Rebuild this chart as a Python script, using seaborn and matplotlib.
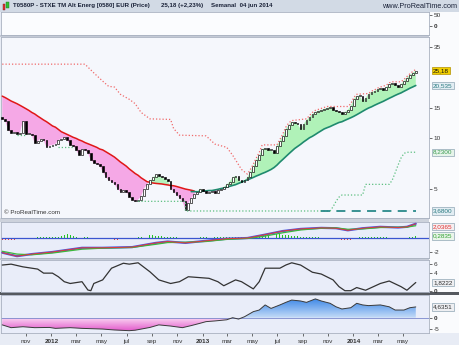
import numpy as np
import pandas as pd
import matplotlib
matplotlib.use("Agg")
import matplotlib.pyplot as plt
from matplotlib.patches import Rectangle
from matplotlib.path import Path
from matplotlib.colors import LinearSegmentedColormap
from matplotlib.transforms import blended_transform_factory
import matplotlib.ticker as mticker
import seaborn as sns

sns.set_theme(style="white")
plt.rcParams['font.family'] = ['Liberation Sans', 'DejaVu Sans']

# ---------------- data (weekly bars) ----------------
first_date = "2011-09-04"
last_date = "2014-06-01"
closes = [13.0, 12.6, 11.2, 10.7, 10.9, 10.6, 10.7, 12.7, 10.6, 10.6,
          10.4, 9.3, 9.6, 9.9, 9.7, 8.8, 9.0, 9.1, 9.2, 9.7,
          9.9, 10.1, 9.7, 9.1, 9.0, 8.5, 7.9, 8.6, 8.5, 8.1,
          7.4, 7.1, 7.0, 6.8, 6.3, 5.9, 5.6, 5.5, 5.3, 5.0,
          4.8, 4.9, 4.8, 4.45, 4.28, 4.2, 4.3, 4.5, 5.0, 5.3,
          5.6, 5.9, 6.1, 5.95, 5.85, 5.7, 5.55, 5.0, 4.8, 4.6,
          4.4, 4.2, 3.75, 4.1, 4.4, 4.65, 4.8, 5.0, 4.85, 4.7,
          4.8, 4.85, 4.7, 4.9, 5.0, 5.1, 5.3, 5.5, 5.85, 5.95,
          5.6, 5.5, 5.6, 5.85, 6.3, 6.8, 7.4, 7.9, 8.6, 8.7,
          8.5, 8.5, 8.1, 9.0, 9.6, 10.3, 11.3, 11.95, 12.5, 12.3,
          12.1, 11.3, 12.1, 12.8, 13.3, 13.9, 14.3, 14.5, 14.7, 14.9,
          15.1, 15.3, 14.7, 14.5, 14.3, 13.9, 14.3, 14.7, 15.5, 17.0,
          17.8, 17.8, 16.6, 17.3, 18.3, 18.8, 19.0, 19.5, 19.8, 19.3,
          20.1, 20.9, 21.2, 20.7, 20.1, 20.9, 21.8, 22.8, 23.7, 24.4, 25.18]
first_open = 13.4

# red moving average (bars 0..65) and green moving average (bars 64..140)
ma_red = [17.75, 17.4, 17.0, 16.6, 16.3, 16.0, 15.65, 15.3, 14.95, 14.6,
          14.2, 13.9, 13.5, 13.15, 12.8, 12.5, 12.15, 11.8, 11.6, 11.25,
          10.9, 10.7, 10.5, 10.3, 10.1, 9.95, 9.75, 9.6, 9.4, 9.25,
          9.1, 8.95, 8.8, 8.6, 8.5, 8.3, 8.1, 7.9, 7.7, 7.45,
          7.2, 7.0, 6.8, 6.55, 6.35, 6.15, 6.0, 5.8, 5.65, 5.5,
          5.45, 5.4, 5.37, 5.35, 5.33, 5.29, 5.26, 5.22, 5.2, 5.15,
          5.09, 5.03, 4.97, 4.93, 4.89, 4.84]
ma_green = [4.8, 4.8, 4.79, 4.8, 4.83, 4.85, 4.87, 4.87, 4.91, 4.95,
            5.0, 5.04, 5.1, 5.16, 5.22, 5.28, 5.37, 5.46, 5.55, 5.64,
            5.73, 5.83, 5.94, 6.04, 6.15, 6.25, 6.37, 6.5, 6.67, 6.9,
            7.19, 7.46, 7.75, 8.05, 8.35, 8.66, 8.91, 9.17, 9.47, 9.74,
            10.03, 10.24, 10.5, 10.78, 11.05, 11.33, 11.52, 11.7, 11.93, 12.15,
            12.37, 12.5, 12.74, 12.97, 13.2, 13.46, 13.76, 14.08, 14.42, 14.76,
            15.08, 15.33, 15.65, 15.95, 16.24, 16.53, 16.88, 17.23, 17.56, 17.92,
            18.25, 18.55, 18.96, 19.35, 19.78, 20.14, 20.535]
green_start = 64

# red dotted trailing line (bar index, value)
rd_i = [0, 28, 31, 34, 36, 38, 40, 43, 45, 47, 50, 57, 58, 60, 69, 72, 76, 78, 81, 83,
        84, 85, 86, 87, 88, 93, 94, 95, 96, 97, 98, 103, 104, 105, 106, 108, 110, 117, 118, 119,
        120, 124, 125, 126, 127, 128, 130, 131, 132, 135, 136, 137, 138, 139, 140]
rd_v = [27.5, 27.5, 24.4, 21.8, 20.3, 20.1, 18.2, 17.0, 16.0, 14.2, 13.0, 12.9, 11.4, 10.4, 10.3, 9.2, 8.8, 7.9, 6.5, 6.1,
        6.5, 7.0, 7.6, 8.2, 9.1, 9.1, 9.8, 10.6, 11.6, 12.3, 12.7, 13.0, 13.6, 14.2, 14.6, 15.0, 15.4, 15.4, 16.0, 17.4,
        18.2, 18.4, 19.0, 19.3, 19.8, 20.1, 20.6, 21.3, 21.6, 21.6, 22.3, 23.2, 24.1, 24.9, 25.6]

# green dotted trailing line segments
gd1_i, gd1_v = [5, 8], [10.4, 10.4]
gd2_i, gd2_v = [19, 24], [8.8, 8.8]
gd3_i = [46, 62, 62, 111, 112, 113, 114, 115, 122, 123, 131, 132, 133, 134, 135, 136, 137, 140]
gd3_v = [4.2, 4.2, 3.68, 3.68, 3.9, 4.2, 4.45, 4.58, 4.58, 5.3, 5.3, 5.6, 6.2, 6.9, 7.6, 8.1, 8.23, 8.23]
support_i, support_v = [108, 140], [3.68, 3.68]

# MACD panel
macd_i = [0, 5, 10, 17, 27, 34, 44, 52, 56, 62, 69, 76, 83, 88, 95, 101, 108, 113, 117, 122, 128, 134, 137, 140]
macd_v = [-2.1, -2.6, -2.3, -2.0, -1.4, -1.4, -1.3, -0.7, -0.5, -0.7, -0.4, -0.1, 0.0, 0.4, 1.0, 1.3, 1.45, 1.4, 1.1, 1.4, 1.6, 1.5, 1.6, 2.04]
signal_v = [-1.9, -2.3, -2.4, -2.15, -1.6, -1.45, -1.35, -0.9, -0.65, -0.6, -0.5, -0.2, -0.05, 0.2, 0.75, 1.15, 1.4, 1.45, 1.25, 1.3, 1.5, 1.55, 1.55, 1.76]
hist = [-0.3, -0.35, -0.35, -0.3, -0.3, -0.25, -0.2, 0.0, 0.05, 0.05, 0.05, 0.05,
        0.1, 0.1, 0.1, 0.15, 0.15, 0.1, 0.1, 0.2, 0.35, 0.5, 0.6, 0.5, 0.35,
        0.2, 0.15, 0.15, 0.1, 0.1, 0.05, 0.03, 0.02, 0.0, -0.02, -0.05,
        -0.15, -0.2, -0.25, -0.25, -0.2, -0.15, -0.1, 0.03, 0.05, 0.05, 0.08, 0.1,
        0.2, 0.3, 0.4, 0.4, 0.35, 0.3, 0.25, 0.2, 0.15, 0.1, 0.1, 0.08, 0.05, 0.03,
        -0.15, -0.2, -0.2, -0.1,
        0.05, 0.08, 0.1, 0.1, 0.12, 0.1, 0.1, 0.12, 0.1, 0.1, 0.12, 0.12, 0.1,
        0.1, 0.12, 0.12, 0.15, 0.15, 0.2, 0.25, 0.3, 0.35, 0.35, 0.4, 0.45,
        0.5, 0.55, 0.6, 0.6, 0.5, 0.45, 0.4, 0.35, 0.3, 0.25, 0.2, 0.2, 0.15, 0.15, 0.1, 0.1,
        0.08, 0.05, 0.03, 0.02, 0.0, -0.05, -0.2, -0.3, -0.35, -0.35, -0.3, -0.25, -0.15,
        0.05, 0.08, 0.1, 0.12, 0.1, 0.1, 0.1, 0.1, 0.12, 0.12, 0.1, 0.05,
        -0.1, -0.15, -0.15, -0.1, 0.03, 0.05, 0.1, 0.2, 0.28]

# oscillator panel
osc_i = [0, 3, 7, 10, 12, 14, 17, 19, 21, 23, 27, 29, 30, 31, 34, 37, 41, 43, 45, 46,
         50, 53, 57, 60, 63, 67, 70, 73, 75, 79, 81, 85, 87, 89, 94, 96, 98, 101, 105, 108,
         112, 114, 116, 118, 120, 123, 128, 131, 135, 137, 140]
osc_v = [5.7, 5.9, 5.3, 5.0, 4.8, 3.9, 3.9, 3.1, 2.0, 1.6, 2.0, 0.15, 0.0, 1.6, 2.4, 5.0, 6.1, 5.9, 6.1, 6.2,
         4.2, 2.4, 1.6, 2.0, 3.1, 2.9, 2.75, 2.0, 1.1, 2.4, 2.0, 0.4, 2.0, 5.0, 5.0, 5.7, 6.2, 5.7, 4.1, 3.7,
         2.4, 0.9, 0.0, 0.0, 0.7, 0.1, 1.6, 2.15, 0.9, 0.1, 1.82]

# bottom panel
vol_i = [0, 3, 7, 11, 16, 18, 23, 27, 34, 38, 43, 45, 50, 53, 57, 61, 64, 67, 69, 72,
         76, 78, 80, 82, 85, 87, 89, 91, 94, 96, 98, 101, 103, 106, 108, 111, 113, 115, 118, 120,
         122, 124, 128, 131, 133, 136, 138, 140]
vol_v = [-3.1, -4.3, -3.9, -4.3, -4.2, -4.6, -4.3, -4.6, -4.9, -5.3, -5.6, -5.4, -4.2, -3.1, -3.6, -4.3, -3.4, -2.4, -1.7, -1.4,
         -0.9, 0.0, -0.6, 0.4, 2.6, 3.3, 5.5, 4.0, 5.5, 6.6, 7.6, 7.2, 6.6, 8.1, 7.2, 6.2, 4.7, 3.75, 4.3, 6.2,
         5.5, 5.2, 5.5, 4.7, 3.3, 3.3, 4.3, 4.64]

month_ticks = ["2011-11-01", "2012-01-01", "2012-03-01", "2012-05-01", "2012-07-01", "2012-09-01", "2012-11-01",
               "2013-01-01", "2013-03-01", "2013-05-01", "2013-07-01", "2013-09-01", "2013-11-01",
               "2014-01-01", "2014-03-01", "2014-05-01"]
month_labels = ["nov", "2012", "mar", "may", "jul", "sep", "nov", "2013", "mar", "may", "jul", "sep", "nov",
                "2014", "mar", "may"]

# ---------------- figure ----------------
W, H = 460, 345
fig = plt.figure(figsize=(W / 100, H / 100), dpi=100)
fig.patch.set_facecolor('#e8ecf5')

def frect(x0, y0, x1, y1, color, z=-5):
    fig.patches.append(Rectangle((x0 / W, 1 - y1 / H), (x1 - x0) / W, (y1 - y0) / H,
                                 transform=fig.transFigure, facecolor=color, edgecolor='none', zorder=z))

frect(429, 12, 460, 333, '#fafbfd')
frect(0, 0, 460, 12, '#d2dae5')
frect(0, 11.5, 460, 12.3, '#9aa6b8', -4)
frect(0, 35, 429, 37, '#c4cad6', -4)
frect(0, 218, 429, 222, '#cdd2dc', -4)
frect(0, 258, 429, 260, '#c4cad6', -4)
frect(0, 292.3, 460, 294.6, '#55595f', -4)

def px_ax(top, bottom, fc):
    ax = fig.add_axes([1 / W, 1 - bottom / H, 428 / W, (bottom - top) / H])
    ax.set_facecolor(fc)
    for s in ax.spines.values():
        s.set_color('#a9b1c0')
        s.set_linewidth(0.6)
    ax.yaxis.tick_right()
    ax.tick_params(axis='y', right=True, left=False, labelright=True, labelleft=False,
                   direction='out', length=2, width=0.5, pad=1.5, labelsize=4.6, colors='#333333')
    ax.tick_params(axis='x', bottom=False, labelbottom=False)
    return ax

ax_top = px_ax(12, 35, '#fbfcfe')
ax_main = px_ax(37, 218, '#f5f7fc')
ax_macd = px_ax(222, 258, '#e9edf9')
ax_osc = px_ax(260, 292, '#e9edf9')
ax_vol = px_ax(295, 333, '#e9edf9')

dates = pd.date_range(start=first_date, end=last_date, periods=len(closes))
xlim = (pd.Timestamp("2011-09-01"), pd.Timestamp("2014-07-03"))
for ax in (ax_top, ax_main, ax_macd, ax_osc, ax_vol):
    ax.set_xlim(xlim)

def vlabel(ax, y, txt, fc, tc, ec='#8fa6b4'):
    tr = blended_transform_factory(ax.transAxes, ax.transData)
    ax.text(1 + 4 / 428, y, txt, transform=tr, fontsize=4.6, color=tc, va='center', ha='left',
            clip_on=False, zorder=10,
            bbox=dict(boxstyle='square,pad=0.18', fc=fc, ec=ec, lw=0.5))

def bold_zero(ax):
    for lab in ax.get_yticklabels():
        if lab.get_text() == '0':
            lab.set_fontweight('bold')

# ---- top empty panel ----
ax_top.set_ylim(-43.5, 64)
ax_top.set_yticks([0, 50])
ax_top.set_yticklabels(['0', '50'])
bold_zero(ax_top)

# ---- main price panel ----
ax = ax_main
ax.set_yscale('log')
ax.set_ylim(3.343, 39.9)
c = np.array(closes)
o = np.array([first_open] + closes[:-1])
mr = np.array(ma_red)
mg = np.array(ma_green)
nr = len(ma_red)
cr = c[:nr]
ax.fill_between(dates[:nr], cr, mr, where=cr <= mr, interpolate=True, color='#f5a8e6', lw=0, zorder=1)
ax.fill_between(dates[:nr], cr, mr, where=cr > mr, interpolate=True, color='#b4f2bc', lw=0, zorder=1)
cg = c[green_start:green_start + len(mg)]
dg = dates[green_start:green_start + len(mg)]
ax.fill_between(dg, cg, mg, where=cg >= mg, interpolate=True, color='#b0f2b8', lw=0, zorder=1)
ax.fill_between(dg, cg, mg, where=cg < mg, interpolate=True, color='#f5a8e6', lw=0, zorder=1)

sns.lineplot(x=dates[:nr], y=mr, ax=ax, color='#e01818', linewidth=1.1, zorder=3, legend=False)
sns.lineplot(x=dg, y=mg, ax=ax, color='#1f8a6e', linewidth=1.2, zorder=3, legend=False)

up = c >= o
bottoms = np.minimum(o, c)
heights = np.maximum(np.abs(c - o), bottoms * 0.012)
ax.bar(dates, heights, bottom=bottoms, width=4.2,
       color=np.where(up, 'white', 'black'), edgecolor='black', linewidth=0.45, zorder=4)

ax.plot(dates[rd_i], rd_v, color='#f06a6a', linestyle=(0, (1, 1.6)), linewidth=0.9, zorder=5)
for gi, gv in ((gd1_i, gd1_v), (gd2_i, gd2_v), (gd3_i, gd3_v)):
    ax.plot(dates[gi], gv, color='#5cbf80', linestyle=(0, (1, 1.6)), linewidth=0.9, zorder=5)
ax.plot(dates[support_i], support_v, color='#2a8a8a', linestyle=(0, (5, 3.5)), linewidth=1.3, zorder=5)

ax.yaxis.set_major_locator(mticker.FixedLocator([5, 10, 15, 35]))
ax.yaxis.set_major_formatter(mticker.FixedFormatter(['5', '10', '15', '35']))
ax.yaxis.set_minor_locator(mticker.NullLocator())
ax.set_xlim(xlim)
vlabel(ax, 25.18, "25,18", '#f3d000', '#111111', '#b09000')
vlabel(ax, 20.535, "20,535", '#e2edf3', '#2a7a80')
vlabel(ax, 8.23, "8,2300", '#e6f4ea', '#3a9a50')
vlabel(ax, 3.68, "3,6800", '#e2edf3', '#2a7a80')
ax.text(0.006, 0.018, "© ProRealTime.com", transform=ax.transAxes, fontsize=4.5, color='#333333',
        ha='left', va='bottom', zorder=6)

# ---- MACD panel ----
ax = ax_macd
ax.set_ylim(-2.86, 2.29)
hv = np.array(hist)
ax.bar(dates[:len(hv)], hv, width=2.2, color=np.where(hv >= 0, '#22c422', '#ee3a3a'), lw=0, zorder=2)
ax.axhline(0, color='#3a55d0', lw=0.9, zorder=2.5)
sns.lineplot(x=dates[macd_i], y=macd_v, ax=ax, color='#4a5ae0', linewidth=1.6, zorder=3, legend=False)
sns.lineplot(x=dates[macd_i], y=signal_v, ax=ax, color='#3cb83c', linewidth=0.9, zorder=3.2, legend=False)
sns.lineplot(x=dates[macd_i], y=macd_v, ax=ax, color='#e03a3a', linewidth=0.7, zorder=3.4, legend=False)
ax.set_yticks([-2])
ax.set_yticklabels(['-2'])
ax.set_xlim(xlim)
vlabel(ax, 1.6, "2,0365", '#f6eef0', '#e03030')
vlabel(ax, 0.28, "0,2835", '#eaf5ea', '#30a030')

# ---- oscillator panel ----
ax = ax_osc
ax.set_ylim(-0.29, 6.82)
sns.lineplot(x=dates[osc_i], y=osc_v, ax=ax, color='#333333', linewidth=0.9, zorder=3, legend=False)
ax.set_yticks([0, 4, 6])
ax.set_yticklabels(['0', '4', '6'])
bold_zero(ax)
ax.set_xlim(xlim)
vlabel(ax, 1.82, "1,8222", '#eeeff2', '#333333')

# ---- bottom panel ----
ax = ax_vol
ax.set_ylim(-6.6, 9.78)
ax.set_xlim(xlim)
xv = dates[vol_i]
yv = np.array(vol_v)

def grad_fill(ax, poly, y0, y1, c0, c1):
    paths = poly.get_paths()
    if not paths:
        return
    cp = Path.make_compound_path(*paths)
    xl, yl = ax.get_xlim(), ax.get_ylim()
    cmap = LinearSegmentedColormap.from_list('g', [c0, c1])
    grad = np.linspace(0, 1, 128).reshape(-1, 1)
    im = ax.imshow(grad, extent=[xl[0], xl[1], y0, y1], origin='lower', aspect='auto',
                   cmap=cmap, zorder=1, interpolation='bilinear')
    im.set_clip_path(cp, ax.transData)
    poly.set_alpha(0)
    ax.set_xlim(xl)
    ax.set_ylim(yl)

pneg = ax.fill_between(xv, 0, yv, where=yv <= 0, interpolate=True, lw=0, color='#f0a0e0', zorder=1)
ppos = ax.fill_between(xv, 0, yv, where=yv >= 0, interpolate=True, lw=0, color='#80b0f0', zorder=1)
grad_fill(ax, pneg, -6.0, 0, '#e050c8', '#fad2f2')
grad_fill(ax, ppos, 0, 8.3, '#c6dcf8', '#3a86e6')
ax.axhline(0, color='#7a88cc', lw=0.6, zorder=2)
sns.lineplot(x=xv, y=yv, ax=ax, color='#3a3a3a', linewidth=0.7, zorder=3, legend=False)
ax.set_yticks([-5, 0])
ax.set_yticklabels(['-5', '0'])
bold_zero(ax)
vlabel(ax, 4.64, "4,6351", '#eeeff2', '#333333')

ax.set_xticks(pd.to_datetime(month_ticks))
ax.set_xticklabels(month_labels)
ax.tick_params(axis='x', bottom=True, labelbottom=True, length=2, width=0.5, pad=2,
               labelsize=4.6, colors='#333333', direction='out')
for lab in ax.get_xticklabels():
    if lab.get_text().isdigit():
        lab.set_fontweight('bold')
for a in (ax_top, ax_main, ax_macd, ax_osc, ax_vol):
    a.set_xlabel('')
    a.set_ylabel('')

# ---- header ----
fig.patches.append(Rectangle((3 / W, 1 - 9.5 / H), 2.2 / W, 5.5 / H, transform=fig.transFigure,
                             fc='#e03030', ec='#802020', lw=0.3, zorder=3))
fig.patches.append(Rectangle((6.5 / W, 1 - 8 / H), 2.2 / W, 6 / H, transform=fig.transFigure,
                             fc='#30c030', ec='#207020', lw=0.3, zorder=3))
hy = 1 - 6 / H
hdr = dict(fontsize=4.45, color='#1a2238', va='center', fontweight='bold')
fig.text(13 / W, hy, "T0580P - STXE TM Alt Energ [0580] EUR (Price)", **hdr)
fig.text(161 / W, hy, "25,18 (+2,23%)", **hdr)
fig.text(211 / W, hy, "Semanal  04 jun 2014", **hdr)
fig.text(457 / W, hy, "www.ProRealTime.com", fontsize=5.2, color='#1a2238', va='center', ha='right')

fig.savefig("out.png", dpi=100, facecolor=fig.get_facecolor())
